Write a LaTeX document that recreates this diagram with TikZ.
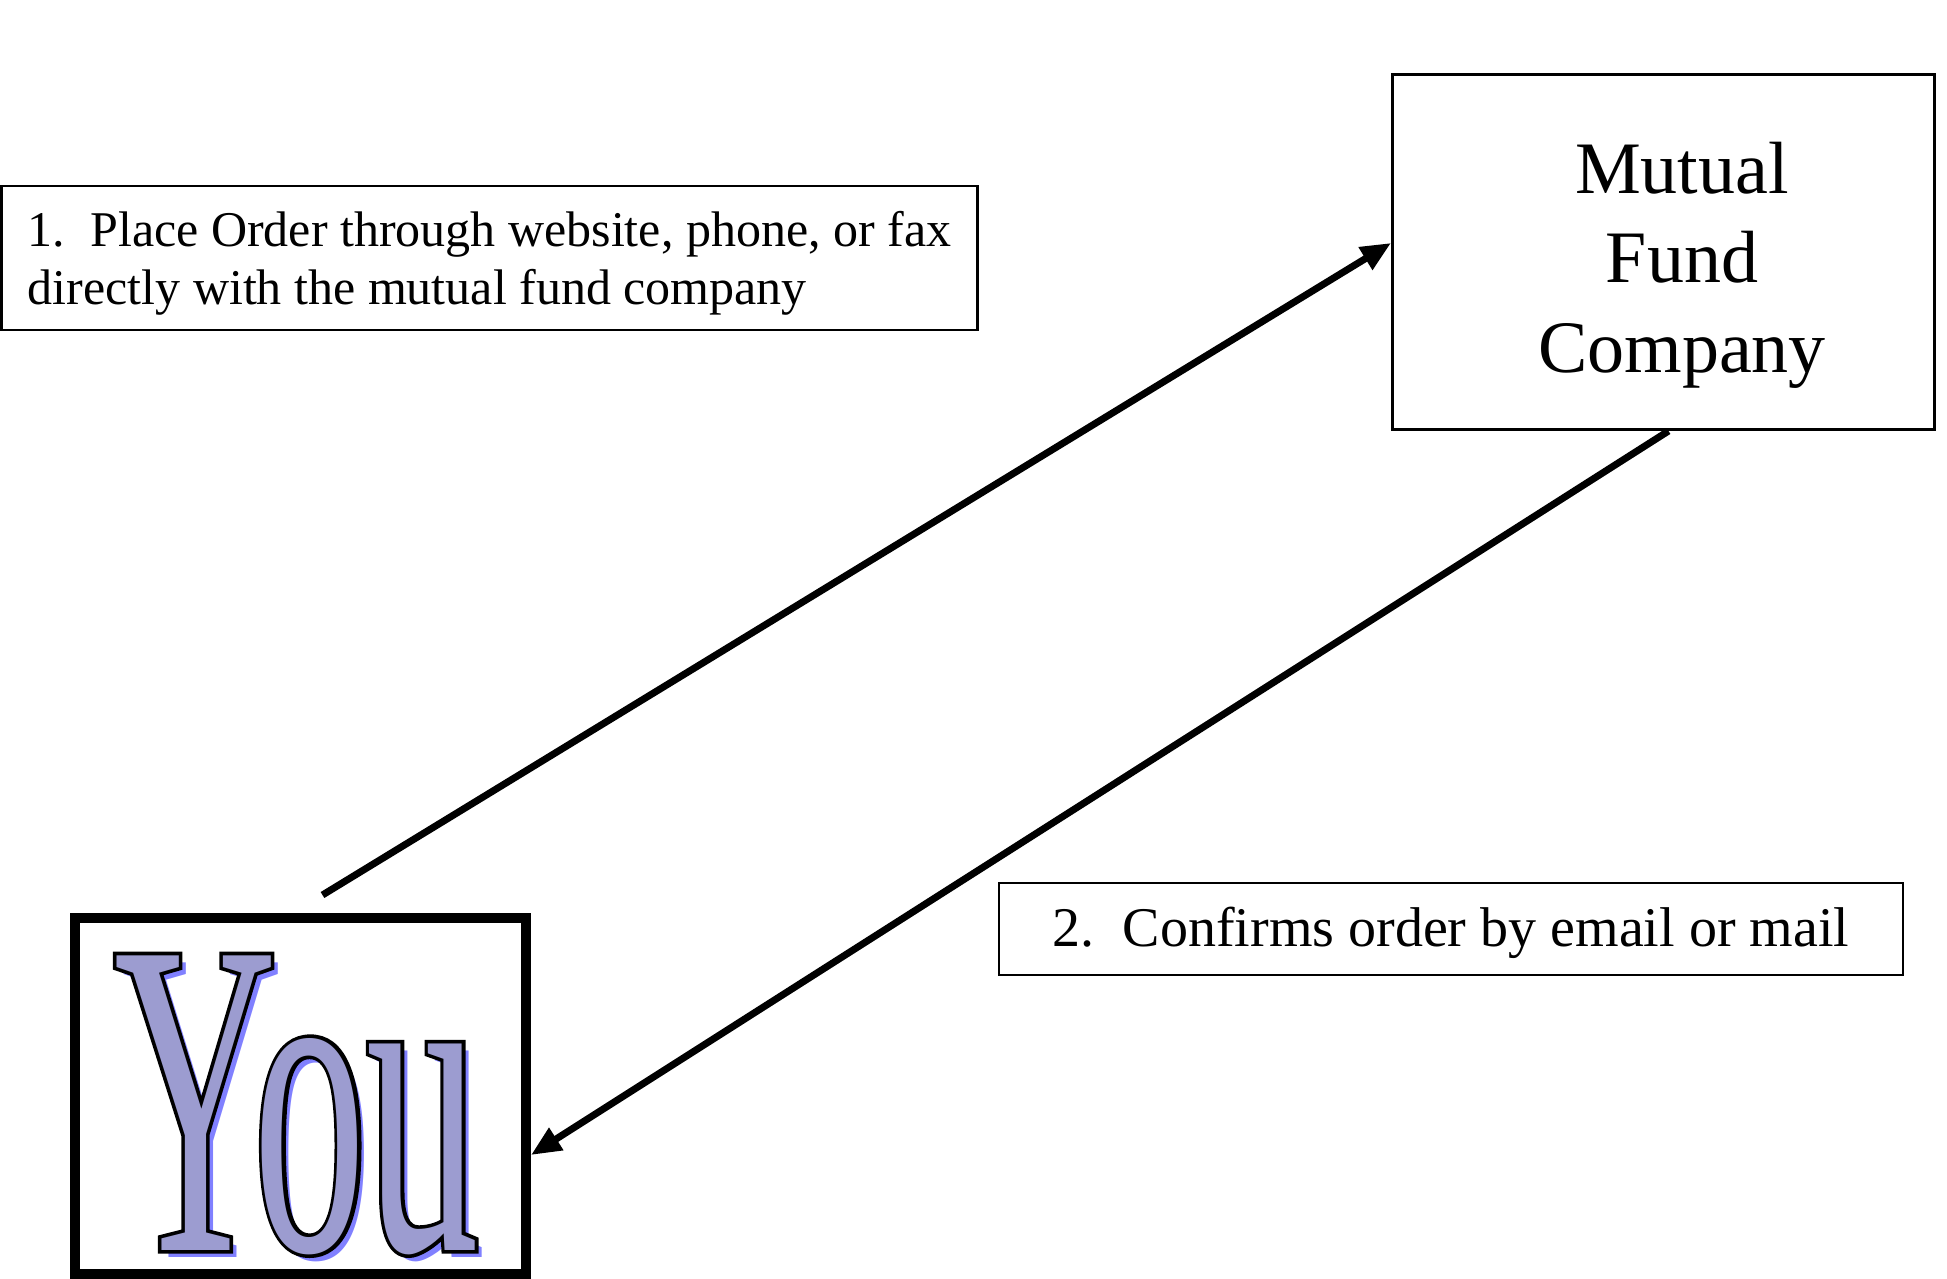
\documentclass[tikz,border=0pt]{standalone}
\usepackage{fontspec}
\setmainfont{Liberation Serif}
\newfontface\youfill[FakeStretch=0.5]{Liberation Serif}
\newfontface\youedge[FakeStretch=0.5,FakeBold=1.6]{Liberation Serif}
\usetikzlibrary{arrows.meta}
\definecolor{youshadow}{HTML}{8080FF}
\definecolor{youface}{HTML}{9C9CD0}
\tikzset{
    box/.style={draw, rectangle, inner sep=0pt, line width=2.5pt},
    flow/.style={line width=7pt, -{Triangle[length=30pt,width=25pt]}},
    youtext/.style={inner sep=0pt, anchor=base, font=\youfill\fontsize{450}{450}\selectfont}
}

\begin{document}
\begin{tikzpicture}[x=1pt,y=-1pt]
    \useasboundingbox (0,0) rectangle (1947,1279);
    % the two parties
    \node [box, line width=3pt, minimum width=542pt, minimum height=355pt] (mf) at (1663.5,252) {};
    \node [align=center, font=\fontsize{74}{89.5}\selectfont] (mflabel) at ([xshift=18.5pt,yshift=-13pt]mf.center) {Mutual\\Fund\\Company};
    \node [box, line width=10pt, minimum width=451pt, minimum height=356pt] (you) at (300.5,1096) {};
    \node [youtext, text=youshadow] (shadow) at ([xshift=3pt,yshift=-161pt]you.center) {You};
    \node [youtext, font=\youedge\fontsize{450}{450}\selectfont] (outline) at ([xshift=-4pt,yshift=-154pt]you.center) {You};
    \node [youtext, text=youface] (face) at ([xshift=-4pt,yshift=-154pt]you.center) {You};
    % the two steps
    \node [box, align=left, minimum width=976pt, minimum height=144pt, text depth=0pt, font=\fontsize{50}{58}\selectfont] (order) at (489.5,258) {1.\ \ Place Order through website, phone, or fax\\directly with the mutual fund company};
    \node [box, minimum width=904pt, minimum height=92pt, text height=34pt, text depth=0pt, font=\fontsize{56}{67}\selectfont] (confirm) at (1451,929) {2.\ \ Confirms order by email or mail};
    \draw [flow] ([xshift=22pt,yshift=18pt]you.north) -- ([yshift=9pt]mf.west);
    \draw [flow] ([xshift=5pt]mf.south) -- ([yshift=-59pt]you.east);
\end{tikzpicture}
\end{document}
